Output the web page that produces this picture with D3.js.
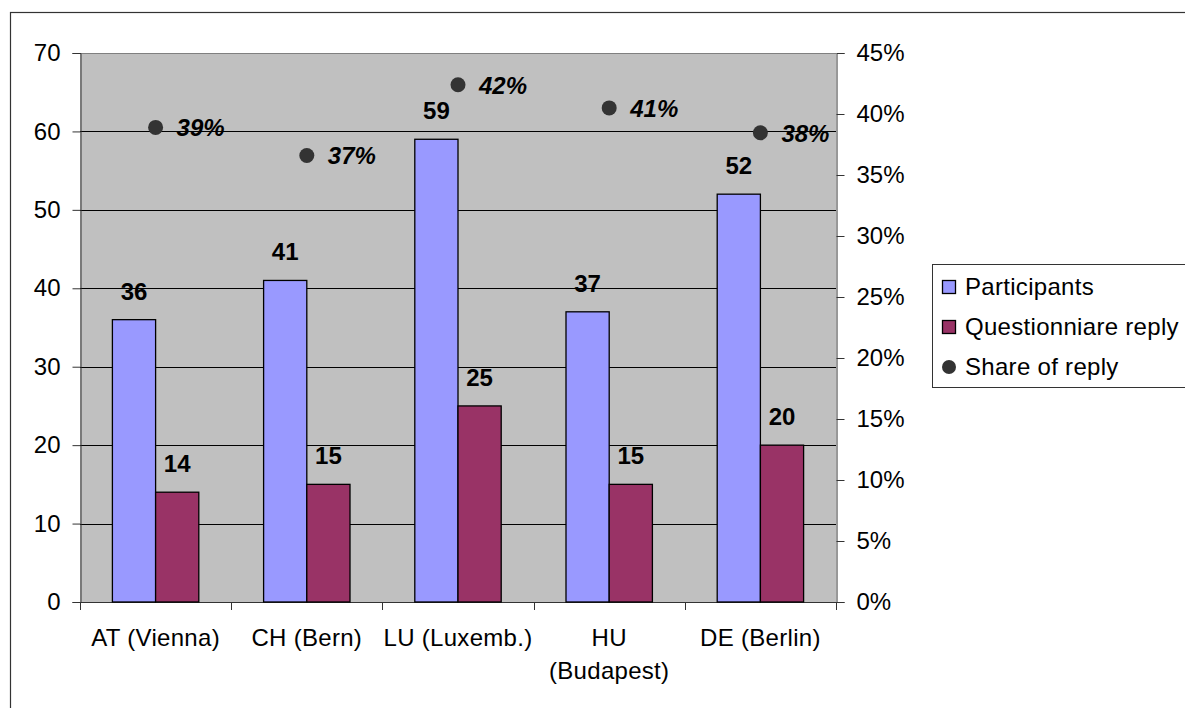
<!DOCTYPE html>
<html>
<head>
<meta charset="utf-8">
<script src="https://cdn.jsdelivr.net/npm/d3@7"></script>
<style>
  html, body { margin: 0; padding: 0; background: #fff; }
  svg { display: block; font-family: "Liberation Sans", Arial, sans-serif; }
</style>
</head>
<body>
<svg id="chart" width="1185" height="708"></svg>
<script>
// ---- data ----
const categories = ["AT (Vienna)", "CH (Bern)", "LU (Luxemb.)", "HU\n(Budapest)", "DE (Berlin)"];
const seriesNames = ["Participants", "Questionniare reply", "Share of reply"];
const participants = [36, 41, 59, 37, 52];
const replies = [14, 15, 25, 15, 20];
const shareOfReply = [0.389, 0.366, 0.424, 0.405, 0.3846];
const leftTicks = [0, 10, 20, 30, 40, 50, 60, 70];
const rightTicks = [0, 0.05, 0.10, 0.15, 0.20, 0.25, 0.30, 0.35, 0.40, 0.45];

// ---- layout ----
const svg = d3.select("#chart");
const plot = { left: 80, right: 836, top: 53, bottom: 602 };
const FS = 24;
const LS = 0.3;
const colors = { p: "#9999FF", r: "#993366", dot: "#333333", bg: "#C0C0C0" };

// outer frame
svg.append("rect").attr("x", 10.5).attr("y", 12.5).attr("width", 1200).attr("height", 800)
  .attr("fill", "#fff").attr("stroke", "#333").attr("stroke-width", 1.2);

const x0 = d3.scaleBand().domain(categories).range([plot.left, plot.right]).padding(0);
const x1 = d3.scaleBand().domain(["p", "r"]).range([0, x0.bandwidth()]).paddingInner(0).paddingOuter(0.75);
const yL = d3.scaleLinear().domain([0, 70]).range([plot.bottom, plot.top]);
const yR = d3.scaleLinear().domain([0, 0.45]).range([plot.bottom, plot.top]);

// plot background
svg.append("rect").attr("x", plot.left).attr("y", plot.top)
  .attr("width", plot.right - plot.left).attr("height", plot.bottom - plot.top)
  .attr("fill", colors.bg);

// gridlines
svg.append("g").selectAll("line").data(leftTicks.filter(d => d > 0)).join("line")
  .attr("x1", plot.left).attr("x2", plot.right)
  .attr("y1", d => Math.round(yL(d)) + 0.5).attr("y2", d => Math.round(yL(d)) + 0.5)
  .attr("stroke", d => d === 70 ? "#808080" : "#000").attr("stroke-width", 1);

// left axis
const axL = svg.append("g").attr("transform", `translate(${plot.left + 0.5},0)`)
  .call(d3.axisLeft(yL).tickValues(leftTicks).tickSize(8).tickPadding(12).tickFormat(d3.format("d")));
axL.select(".domain").attr("stroke", "#333");
axL.selectAll(".tick line").attr("stroke", "#333");
axL.selectAll(".tick text").attr("font-size", FS).attr("fill", "#000").attr("font-family", "Liberation Sans, Arial, sans-serif");

// right axis
const axR = svg.append("g").attr("transform", `translate(${plot.right + 0.5},0)`)
  .call(d3.axisRight(yR).tickValues(rightTicks).tickSize(8).tickPadding(12).tickFormat(d3.format(".0%")));
axR.select(".domain").attr("stroke", "#333");
axR.selectAll(".tick line").attr("stroke", "#333");
axR.selectAll(".tick text").attr("font-size", FS).attr("fill", "#000").attr("font-family", "Liberation Sans, Arial, sans-serif");

// bottom axis
const bounds = categories.map(c => x0(c)).concat([plot.right]);
svg.append("line").attr("x1", plot.left).attr("x2", plot.right)
  .attr("y1", plot.bottom + 0.5).attr("y2", plot.bottom + 0.5).attr("stroke", "#333");
svg.append("g").selectAll("line").data(bounds).join("line")
  .attr("x1", d => Math.round(d) + 0.5).attr("x2", d => Math.round(d) + 0.5)
  .attr("y1", plot.bottom).attr("y2", plot.bottom + 8).attr("stroke", "#333");
const xl = svg.append("g").selectAll("text").data(categories).join("text")
  .attr("x", d => x0(d) + x0.bandwidth() / 2).attr("y", plot.bottom + 44)
  .attr("text-anchor", "middle").attr("font-size", FS).attr("letter-spacing", LS).attr("fill", "#000");
xl.each(function(d) {
  const lines = d.split("\n");
  d3.select(this).selectAll("tspan").data(lines).join("tspan")
    .attr("x", x0(d) + x0.bandwidth() / 2).attr("dy", (l, i) => i === 0 ? 0 : 33).text(l => l);
});

// bars
const barData = [];
categories.forEach((c, i) => {
  barData.push({ c, k: "p", v: participants[i] });
  barData.push({ c, k: "r", v: replies[i] });
});
svg.append("g").selectAll("rect").data(barData).join("rect")
  .attr("x", d => x0(d.c) + x1(d.k)).attr("width", x1.bandwidth())
  .attr("y", d => yL(d.v)).attr("height", d => yL(0) - yL(d.v))
  .attr("fill", d => colors[d.k]).attr("stroke", "#000").attr("stroke-width", 1.3);

svg.append("g").selectAll("text").data(barData).join("text")
  .attr("x", d => x0(d.c) + x1(d.k) + x1.bandwidth() / 2)
  .attr("y", d => yL(d.v) - 20)
  .attr("text-anchor", "middle").attr("font-size", FS).attr("font-weight", "bold").attr("fill", "#000")
  .text(d => d.v);

// share dots
const dotData = categories.map((c, i) => ({ c, v: shareOfReply[i] }));
svg.append("g").selectAll("circle").data(dotData).join("circle")
  .attr("cx", d => x0(d.c) + x0.bandwidth() / 2).attr("cy", d => yR(d.v))
  .attr("r", 7.5).attr("fill", colors.dot);
svg.append("g").selectAll("text").data(dotData).join("text")
  .attr("x", d => x0(d.c) + x0.bandwidth() / 2 + 21).attr("y", d => yR(d.v) + 9)
  .attr("font-size", FS).attr("font-weight", "bold").attr("font-style", "italic").attr("fill", "#000")
  .text(d => d3.format(".0%")(d.v));

// legend
const lg = svg.append("g");
lg.append("rect").attr("x", 932.5).attr("y", 264.5).attr("width", 300).attr("height", 123)
  .attr("fill", "#fff").attr("stroke", "#333").attr("stroke-width", 1);
const legendItems = [
  { name: seriesNames[0], type: "rect", color: colors.p },
  { name: seriesNames[1], type: "rect", color: colors.r },
  { name: seriesNames[2], type: "dot", color: colors.dot }
];
legendItems.forEach((it, i) => {
  const cy = 287 + i * 40;
  if (it.type === "rect") {
    lg.append("rect").attr("x", 942.5).attr("y", cy - 6.5).attr("width", 13).attr("height", 13)
      .attr("fill", it.color).attr("stroke", "#000").attr("stroke-width", 1.3);
  } else {
    lg.append("circle").attr("cx", 949).attr("cy", cy).attr("r", 7).attr("fill", it.color);
  }
  lg.append("text").attr("x", 965).attr("y", cy + 8).attr("font-size", FS).attr("letter-spacing", LS)
    .attr("fill", "#000").text(it.name);
});
</script>
</body>
</html>
